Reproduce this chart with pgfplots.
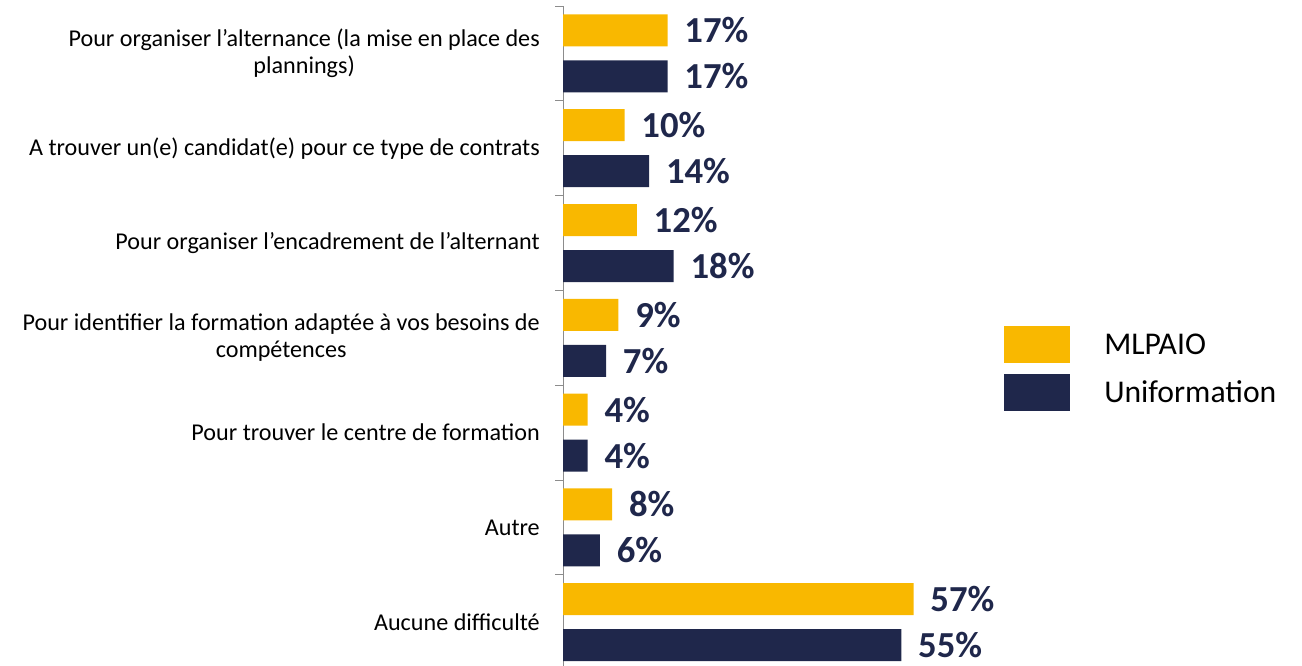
\documentclass[border=0pt]{standalone}
\usepackage{pgfplots}
\pgfplotsset{compat=1.18}
\usepackage{fontspec}
\setmainfont{Carlito}
\definecolor{myyellow}{HTML}{F9B800}
\definecolor{mynavy}{HTML}{1F274B}
\definecolor{axgray}{HTML}{8C8C8C}
\begin{document}
\begin{tikzpicture}
\path[use as bounding box] (0,0) rectangle (976.5pt,498.75pt);
\begin{axis}[
  at={(422.25pt,494.25pt)}, anchor=north west,
  scale only axis, width=276.75pt, height=497.7pt,
  xbar, bar width=24pt,
  xmin=0, xmax=60,
  ymin=-0.5, ymax=6.5, y dir=reverse,
  clip=false,
  axis x line=none,
  axis y line*=left,
  y axis line style={draw=axgray, line width=0.75pt},
  ytick={0,1,2,3,4,5,6},
  yticklabels={{Pour organiser l’alternance (la mise en place des\\plannings)},
    {A trouver un(e) candidat(e) pour ce type de contrats},
    {Pour organiser l’encadrement de l’alternant},
    {Pour identifier la formation adaptée à vos besoins de\\compétences},
    {Pour trouver le centre de formation},
    {Autre},
    {Aucune difficulté}},
  major tick length=0pt,
  yticklabel style={font=\fontsize{18.1}{20.25}\selectfont, align=center, inner sep=0pt, xshift=-17.25pt, text=black},
  extra y ticks={-0.5,0.5,1.5,2.5,3.5,4.5,5.5,6.5},
  extra y tick labels={},
  extra y tick style={major tick length=6pt, tick align=outside, tick style={draw=axgray, line width=0.75pt}},
  /pgf/number format/assume math mode=true,
  nodes near coords={\pgfmathprintnumber{\pgfplotspointmeta}\%},
  nodes near coords style={font=\fontsize{27.5}{30}\selectfont\bfseries, text=mynavy, anchor=west, inner sep=0pt, xshift=12.5pt},
  legend style={at={(axis description cs:1.1951,0.5178)}, anchor=north west, draw=none, fill=none, inner sep=0pt,
    row sep=8.25pt, column sep=25.5pt, font=\fontsize{23.75}{27}\selectfont,
    nodes={inner sep=0pt, text height=12pt, text depth=0pt}},
  legend cell align=left,
  legend image code/.code={\fill[#1] (0pt,-12.6pt) rectangle (49.5pt,15.1pt);},
]
\addplot[fill=myyellow, draw=none, bar shift=17.25pt] coordinates {(17,0) (10,1) (12,2) (9,3) (4,4) (8,5) (57,6)};
\addplot[fill=mynavy, draw=none, bar shift=-17.25pt] coordinates {(17,0) (14,1) (18,2) (7,3) (4,4) (6,5) (55,6)};
\legend{MLPAIO, Uniformation}
\end{axis}
\end{tikzpicture}
\end{document}
